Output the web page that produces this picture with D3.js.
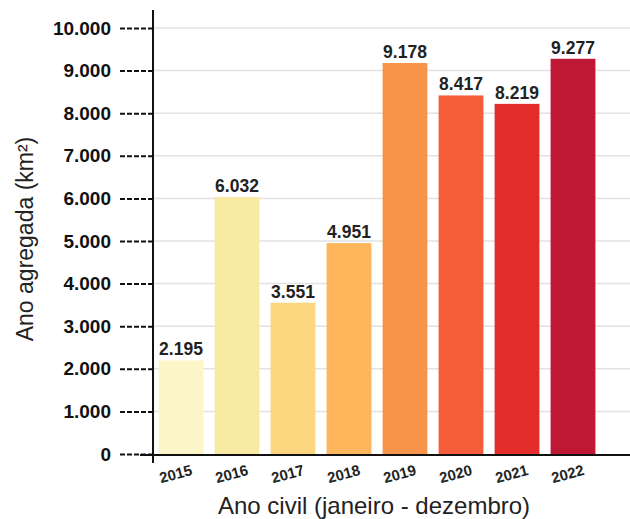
<!DOCTYPE html>
<html>
<head>
<meta charset="utf-8">
<script src="https://cdn.jsdelivr.net/npm/d3@7"></script>
<style>
  html, body { margin: 0; padding: 0; background: #fff; }
</style>
</head>
<body>
<script>
// Área desmatada agregada por ano civil
const years = ["2015", "2016", "2017", "2018", "2019", "2020", "2021", "2022"];
const areas = [2195, 6032, 3551, 4951, 9178, 8417, 8219, 9277];
const barColors = ["#fbf5c8", "#f8e9a3", "#fcd67f", "#fdb65b", "#f8944a", "#f45c3a", "#e22d2b", "#bf1834"];
const yTicks = [0, 1000, 2000, 3000, 4000, 5000, 6000, 7000, 8000, 9000, 10000];

const width = 630, height = 519;
const fmt = v => d3.format(",")(v).replace(/,/g, ".");

const svg = d3.select("body").append("svg")
  .attr("width", width).attr("height", height)
  .style("font-family", "'Liberation Sans', Arial, sans-serif");

const x = d3.scaleBand().domain(years).range([153, 601]).paddingInner(0.2).paddingOuter(0.1);
const y = d3.scaleLinear().domain([0, 10000]).range([454, 28]);

// Grade
svg.append("g").selectAll("line").data(yTicks.slice(1)).join("line")
  .attr("x1", 153).attr("x2", width)
  .attr("y1", d => y(d)).attr("y2", d => y(d))
  .attr("stroke", "#e2e2e2").attr("stroke-width", 1.5);

// Barras
svg.append("g").selectAll("rect").data(years).join("rect")
  .attr("x", d => x(d))
  .attr("y", (d, i) => y(areas[i]))
  .attr("width", x.bandwidth())
  .attr("height", (d, i) => y(0) - y(areas[i]))
  .attr("fill", (d, i) => barColors[i]);

// Rótulos de valor
svg.append("g").selectAll("text").data(years).join("text")
  .attr("x", d => x(d) + x.bandwidth() / 2)
  .attr("y", (d, i) => y(areas[i]) - 5)
  .attr("text-anchor", "middle")
  .attr("font-size", 17.5).attr("font-weight", "bold").attr("fill", "#222")
  .text((d, i) => fmt(areas[i]));

// Eixo Y
const yAxis = svg.append("g").attr("transform", "translate(153,0)")
  .call(d3.axisLeft(y).tickValues(yTicks).tickSize(35).tickPadding(7).tickFormat(fmt));
yAxis.select(".domain").remove();
yAxis.selectAll(".tick line")
  .attr("stroke", "#111").attr("stroke-width", 2).attr("stroke-dasharray", "5,2");
yAxis.selectAll(".tick text")
  .attr("font-size", 19).attr("font-weight", "bold").attr("fill", "#111")
  .attr("font-family", "'Liberation Sans', Arial, sans-serif");

svg.append("line").attr("x1", 153).attr("x2", 153).attr("y1", 10).attr("y2", 463)
  .attr("stroke", "#111").attr("stroke-width", 2);

// Eixo X
svg.append("line").attr("x1", 140).attr("x2", width).attr("y1", 455).attr("y2", 455)
  .attr("stroke", "#111").attr("stroke-width", 2);

svg.append("g").selectAll("text").data(years).join("text")
  .attr("transform", d => `translate(${x(d) + x.bandwidth() / 2 - 4},${479}) rotate(-15)`)
  .attr("text-anchor", "middle")
  .attr("font-size", 15).attr("font-weight", "bold").attr("fill", "#222")
  .text(d => d);

// Títulos
svg.append("text").attr("x", 374).attr("y", 514)
  .attr("text-anchor", "middle").attr("font-size", 24).attr("fill", "#222")
  .text("Ano civil (janeiro - dezembro)");
svg.append("text").attr("transform", "translate(33,239) rotate(-90)")
  .attr("text-anchor", "middle").attr("font-size", 23).attr("fill", "#222")
  .text("Ano agregada (km²)");
</script>
</body>
</html>
